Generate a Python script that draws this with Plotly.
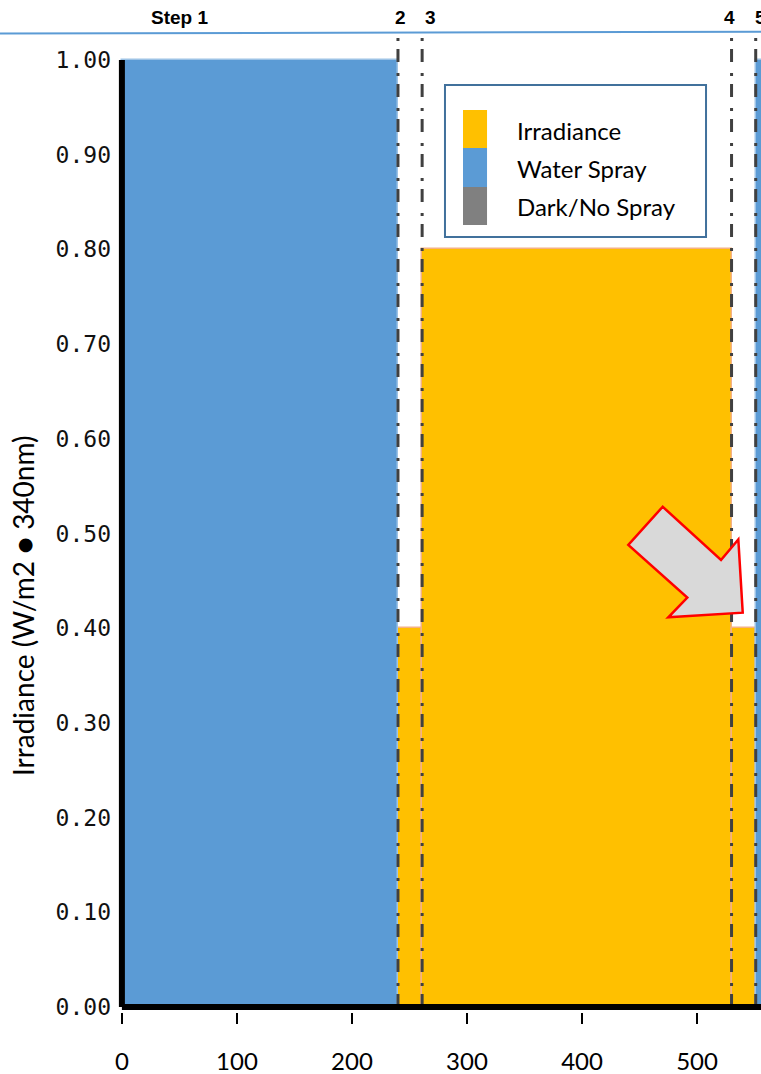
import plotly.graph_objects as go

# ---- data ----
step_labels = ["Step 1", "2", "3", "4", "5"]
step_start = [0, 240, 261, 530, 551]
step_duration = [240, 21, 269, 21, 60]
step_value = [1.00, 0.40, 0.80, 0.40, 1.00]
step_type = ["Water Spray", "Irradiance", "Irradiance", "Irradiance", "Water Spray"]

legend_names = ["Irradiance", "Water Spray", "Dark/No Spray"]
legend_colors = ["#FFC000", "#5B9BD5", "#808080"]
outline_colors = {"Irradiance": "#F4B183", "Water Spray": "#9DC3E6", "Dark/No Spray": "#A0A0A0"}

x_tickvals = [0, 100, 200, 300, 400, 500]
y_tickvals = [0.0, 0.1, 0.2, 0.3, 0.4, 0.5, 0.6, 0.7, 0.8, 0.9, 1.0]
y_ticktext = ["%.2f" % v for v in y_tickvals]
y_title = "Irradiance (W/m2 \u25cf 340nm)"

# label anchor positions (layout)
label_x = [50, 242, 268, 528, 549]
label_anchor = ["center", "center", "center", "center", "left"]

fig = go.Figure()

color_of = dict(zip(legend_names, legend_colors))
for name in legend_names:
    idx = [i for i, t in enumerate(step_type) if t == name]
    if not idx:
        continue
    fig.add_trace(go.Bar(
        x=[step_start[i] for i in idx],
        y=[step_value[i] for i in idx],
        width=[step_duration[i] for i in idx],
        offset=0,
        name=name,
        marker=dict(color=color_of[name], line=dict(color=outline_colors[name], width=1.5)),
        showlegend=False,
        hoverinfo="skip",
    ))

shapes = []
# vertical dash-dot step boundaries
for s in step_start[1:]:
    shapes.append(dict(type="line", xref="x", yref="y", x0=s, x1=s, y0=0, y1=1.026,
                       line=dict(color="#404040", width=3, dash="13px,8px,3px,11px"), layer="above"))
# axis lines
shapes.append(dict(type="line", xref="x", yref="y", x0=0, x1=0, y0=0, y1=max(step_value),
                   line=dict(color="black", width=6), layer="above"))
shapes.append(dict(type="line", xref="x", yref="y", x0=0, x1=step_start[-1] + step_duration[-1], y0=0, y1=0,
                   line=dict(color="black", width=6), layer="above"))
# thin top rule
shapes.append(dict(type="line", xref="paper", yref="paper", x0=-0.178, x1=1.0, y0=0.9995, y1=1.0013,
                   line=dict(color="#5B9BD5", width=2)))

# legend box
shapes.append(dict(type="rect", xref="paper", yref="paper", x0=0.5108, x1=0.9149, y0=0.7916, y1=0.9469,
                   line=dict(color="#41719C", width=2), fillcolor="white", layer="above"))
sw_tops = [0.9213, 0.8825, 0.8427]
sw_bottoms = [0.8825, 0.8427, 0.8039]
text_y = [0.8999, 0.8621, 0.8223]
annotations = []
for name, col, t, b, ty in zip(legend_names, legend_colors, sw_tops, sw_bottoms, text_y):
    shapes.append(dict(type="rect", xref="paper", yref="paper", x0=0.5387, x1=0.5759, y0=b, y1=t,
                       line=dict(width=0), fillcolor=col, layer="above"))
    annotations.append(dict(xref="paper", yref="paper", x=0.6192, y=ty, text=name, showarrow=False,
                            xanchor="left", yanchor="middle",
                            font=dict(family="Lato", size=24, color="black")))

# arrow callout
arrow_pts = [(0.8478, 0.5161), (0.7946, 0.4770), (0.8859, 0.4232), (0.8565, 0.4032),
             (0.9717, 0.4079), (0.9649, 0.4828), (0.9381, 0.4617)]
path = "M " + " L ".join("%f,%f" % p for p in arrow_pts) + " Z"
shapes.append(dict(type="path", xref="paper", yref="paper", path=path,
                   fillcolor="#D9D9D9", line=dict(color="#FF0000", width=2.5), layer="above"))

# step labels
for lab, lx, an in zip(step_labels, label_x, label_anchor):
    annotations.append(dict(xref="x", yref="paper", x=lx, y=1.0163, text="<b>%s</b>" % lab,
                            showarrow=False, xanchor=an, yanchor="middle",
                            font=dict(family="Liberation Sans", size=19, color="black")))

# y title
annotations.append(dict(xref="paper", yref="paper", x=-0.1424, y=0.4147, text=y_title, textangle=-90,
                        showarrow=False, xanchor="center", yanchor="middle",
                        font=dict(family="Lato", size=28, color="black")))

fig.update_layout(
    width=761, height=1074,
    margin=dict(l=115, r=0, t=33, b=62),
    paper_bgcolor="white", plot_bgcolor="white",
    shapes=shapes, annotations=annotations,
    bargap=0,
    xaxis=dict(range=[-6, 555.6], tickvals=x_tickvals, ticks="outside", ticklen=11, tickwidth=2,
               tickcolor="black", showgrid=False, zeroline=False, showline=False, automargin=False,
               tickfont=dict(family="Lato", size=24, color="black"), ticklabelstandoff=17),
    yaxis=dict(range=[-0.0053, 1.0285], tickvals=y_tickvals, ticktext=y_ticktext, ticks="",
               automargin=False, showgrid=False, zeroline=False, showline=False,
               tickfont=dict(family="DejaVu Sans Mono", size=23, color="#111111"), ticklabelstandoff=3),
)

fig.write_html("out.html", config={"displayModeBar": False},
               post_script="document.body.style.margin='0';document.body.style.overflow='hidden';")
